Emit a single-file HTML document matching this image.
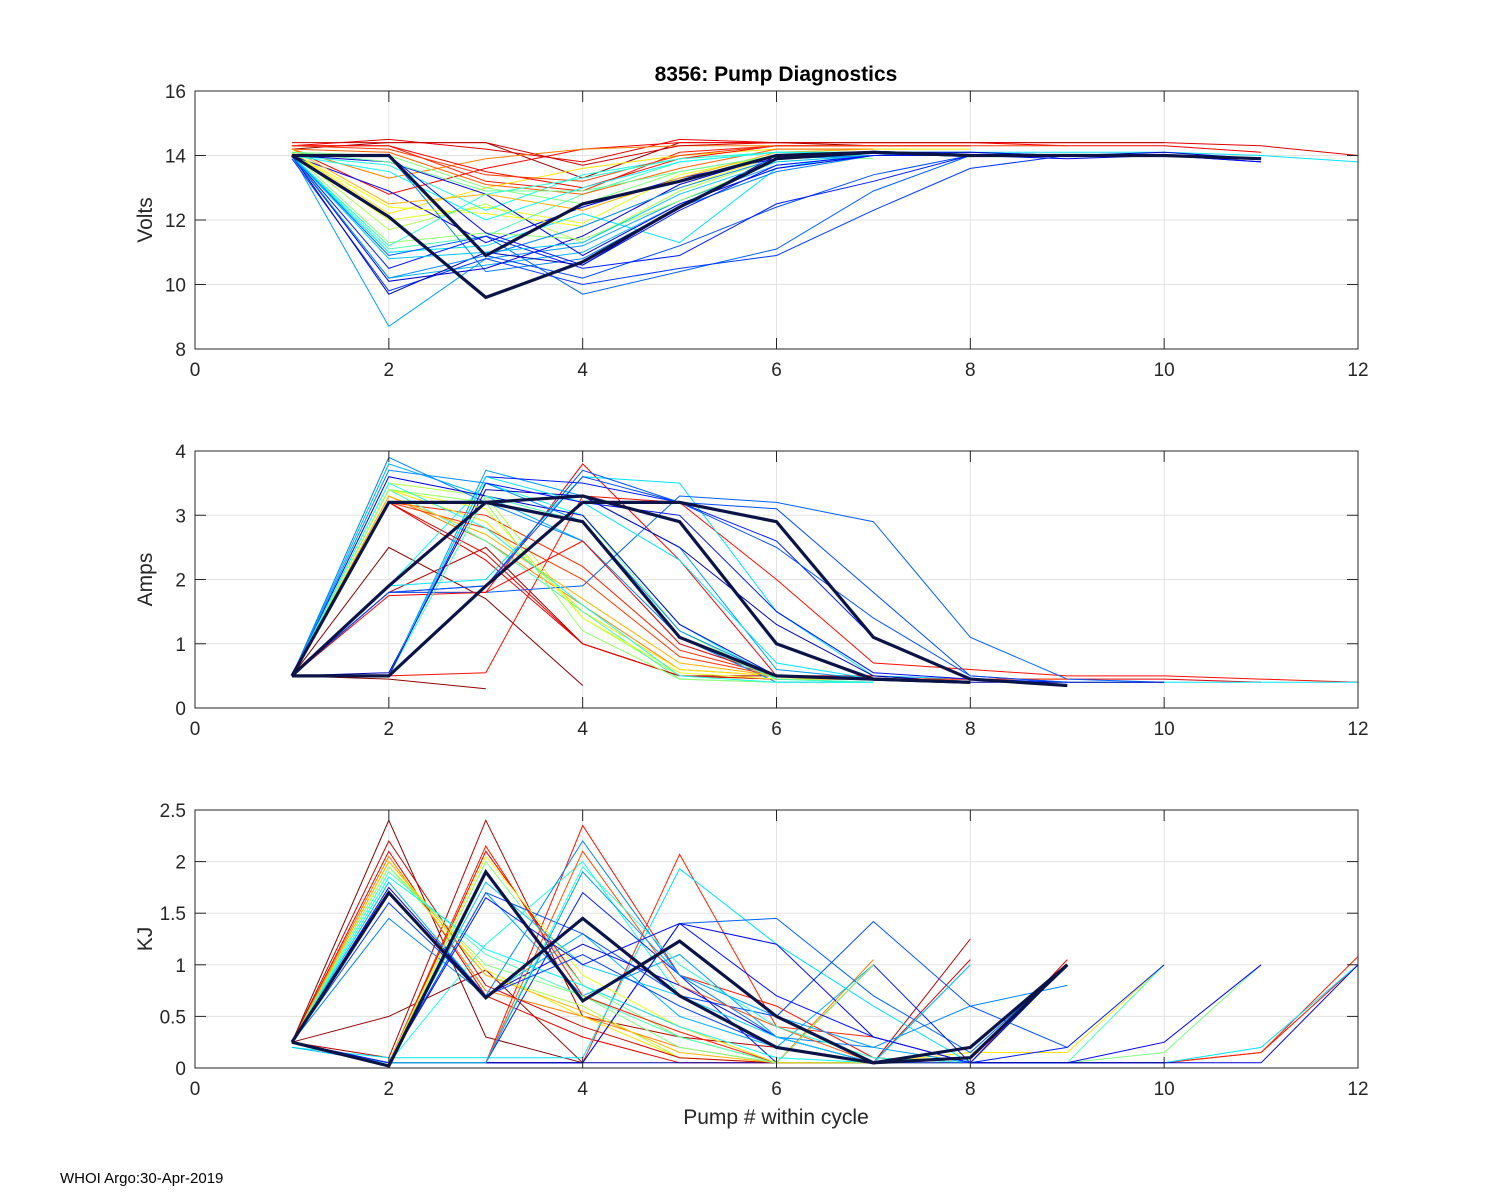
<!DOCTYPE html>
<html><head><meta charset="utf-8"><style>
html,body{margin:0;padding:0;background:#fff;}
svg{display:block;font-family:"Liberation Sans",sans-serif;}
</style></head><body>
<svg id="chart" width="1500" height="1200" viewBox="0 0 1500 1200">
<rect width="1500" height="1200" fill="#fff"/>
<text x="776" y="81" text-anchor="middle" font-size="21" font-weight="bold" fill="#000">8356: Pump Diagnostics</text>
<text x="776" y="1124" text-anchor="middle" font-size="21" fill="#262626">Pump # within cycle</text>
<text x="60" y="1183" font-size="15" fill="#000">WHOI Argo:30-Apr-2019</text>
</svg>
<script>
// Shared x ticks
const xTicks = [0,2,4,6,8,10,12];
// Volts panel
const voltColors = [0.02,0.1,0.12,0.15,0.25,0.35,0.4,0.45,0.5,0.55,0.6,0.65,0.7,0.72,0.75,0.78,0.8,0.82,0.85,0.88,0.9,0.92,0.95,1,1,
  0.08,0.13,0.18,0.22,0.3,0.38,0.48,0.52,0.58,0.62,0.68,0.74,0.86];
const voltThick = [0,0,0,0,0,0,0,0,0,0,0,0,0,0,0,0,0,0,0,0,0,0,0,1,1,0,0,0,0,0,0,0,0,0,0,0,0,0];
const voltSeries = [
[14.2,14.4,14.4,13.3,14.4,14.4,14.3,14.3],
[14.3,14.5,14.2,13.8,14.5,14.4,14.4,14.4,14.4,14.4,14.3,14.0],
[14.2,12.8,13.6,14.2,14.4,14.4,14.4,14.4,14.3,14.3,14.1],
[14.3,14.3,13.2,12.9,14.1,14.3,14.3,14.3],
[14.2,13.3,13.9,14.2,14.3,14.3,14.3],
[14.1,12.2,13.0,13.6,14.0,14.2,14.2,14.2],
[14.1,12.0,12.4,11.9,13.4,14.0,14.1],
[14.1,11.7,12.5,11.3,12.9,13.9,14.1,14.1],
[14.1,14.0,13.0,12.5,13.5,14.0,13.9],
[14.0,11.1,11.5,12.8,13.8,14.1,14.1],
[14.0,13.7,12.3,13.4,13.9,14.1],
[14.0,11.0,11.2,12.2,11.3,13.6,14.1,14.1,14.1,14.1,14.0,13.8],
[14.0,10.2,10.6,11.0,12.5,13.6,14.0,14.0,14.0],
[14.0,8.7,10.8,11.2,12.6,13.7,14.0,14.0],
[14.0,14.0,10.4,10.8,12.4,13.5,14.0,14.1,14.0],
[14.0,10.9,11.5,9.7,10.4,11.1,12.9,14.0,14.0],
[14.0,14.0,10.9,10.2,11.2,12.4,13.4,14.0],
[13.9,9.8,10.8,10.0,10.5,10.9,12.3,13.6,14.0],
[14.0,10.5,11.5,10.5,10.9,12.5,13.2,14.0,14.0,14.0,13.8],
[14.0,12.9,11.3,12.4,13.3,13.9,14.0,14.0,13.9,14.0,13.8],
[14.0,13.8,12.8,10.9,12.5,13.6,14.0,14.0,14.0,14.0],
[14.0,10.1,10.5,11.5,13.1,14.0,14.1,14.1,14.0,14.1,13.9],
[14.0,9.7,11.0,10.6,12.4,14.0,14.1,14.0,14.0,14.0,13.9],
[14.0,12.1,9.6,10.7,12.4,13.9,14.1,14.0,14.0,14.0,13.9],
[14.0,14.0,10.9,12.5,13.2,14.0,14.1,14.0],
[14.4,14.4,14.4,13.7,14.3,14.4,14.4,14.4,14.4,14.4],
[14.3,14.3,13.5,13.0,13.9,14.3,14.3],
[14.3,14.2,13.4,13.2,14.0,14.3,14.3,14.3,14.3],
[14.2,14.1,13.1,12.8,13.6,14.2,14.2],
[14.2,12.5,12.8,12.3,13.3,14.1,14.2],
[14.1,12.4,12.2,11.8,13.0,14.0,14.1],
[14.1,11.3,11.6,11.4,12.6,13.8,14.0],
[14.1,13.8,12.9,12.9,13.5,14.0,14.0],
[14.0,11.2,12.8,13.3,13.9,14.1,14.1],
[14.0,13.5,12.0,13.0,13.8,14.1,14.1],
[14.0,10.8,11.0,11.3,12.8,13.8,14.0,14.0],
[14.0,10.2,10.9,11.8,13.0,13.9,14.0,14.0,14.0],
[14.0,14.0,11.6,10.6,12.3,13.7,14.0,14.0]
];
const voltTicks = [8,10,12,14,16];
// Amps panel
const ampColors = [0.0,0.02,0.05,0.1,0.12,0.14,0.16,0.25,0.35,0.45,0.5,0.55,0.6,0.65,0.7,0.72,0.75,0.78,0.8,0.85,0.9,0.95,1,1,1,
  0.1,0.13,0.18,0.3,0.4,0.48,0.55,0.6,0.65,0.74,0.8,0.86];
const ampThick = [0,0,0,0,0,0,0,0,0,0,0,0,0,0,0,0,0,0,0,0,0,0,1,1,1,0,0,0,0,0,0,0,0,0,0,0,0];
const ampSeries = [
[0.5,2.5,1.7,0.35],
[0.5,0.45,0.3],
[0.5,1.8,2.5,1.0,0.5,0.5,0.5,0.4],
[0.5,3.2,2.3,1.0,0.5,0.45,0.45,0.45,0.45,0.45,0.4],
[0.5,1.8,1.8,3.8,2.3,0.5,0.5,0.45],
[0.5,0.5,0.55,3.3,3.2,2.0,0.7,0.6,0.5,0.5,0.45,0.4],
[0.5,3.2,3.0,2.2,0.9,0.5,0.45],
[0.5,3.3,2.6,1.6,0.6,0.5,0.45],
[0.5,3.4,2.9,1.5,0.6,0.5,0.45],
[0.5,3.5,3.3,1.4,0.5,0.45,0.45],
[0.5,0.5,3.3,3.0,1.2,0.45,0.4],
[0.5,3.4,2.6,1.5,0.45,0.4,0.4],
[0.5,1.9,3.5,3.0,1.3,0.45,0.4],
[0.5,1.9,2.0,3.6,3.5,1.5,0.5,0.45,0.4,0.4,0.4,0.4],
[0.5,3.8,3.3,2.6,1.0,0.5,0.45,0.4],
[0.5,0.5,3.7,3.3,2.5,0.6,0.45],
[0.5,3.9,3.2,2.6,1.1,0.4,0.4],
[0.5,1.8,1.8,1.9,3.3,3.2,2.9,1.1,0.45,0.4],
[0.5,1.8,1.9,3.7,3.2,3.1,1.8,0.5,0.4],
[0.5,0.5,3.6,3.5,3.2,2.6,1.1,0.45,0.4],
[0.5,3.6,3.3,3.0,1.3,0.5,0.45],
[0.5,0.55,3.4,3.3,2.5,1.3,0.5,0.4,0.4,0.4],
[0.5,1.9,3.2,2.9,1.1,0.5,0.45,0.4],
[0.5,3.2,3.2,3.3,2.9,1.0,0.45,0.4],
[0.5,0.5,1.9,3.2,3.2,2.9,1.1,0.45,0.35],
[0.5,3.2,2.4,1.0,0.5,0.45,0.45,0.45],
[0.5,1.75,1.8,2.6,1.0,0.5,0.45],
[0.5,3.2,2.8,2.0,0.8,0.5,0.45,0.45,0.45],
[0.5,3.3,2.7,1.7,0.7,0.5,0.45],
[0.5,3.4,3.1,1.4,0.55,0.45,0.45],
[0.5,3.4,3.2,1.2,0.45,0.4],
[0.5,0.5,3.3,2.9,1.1,0.45,0.4],
[0.5,3.5,2.8,1.6,0.5,0.4,0.4],
[0.5,0.5,3.6,3.2,2.3,0.7,0.45],
[0.5,3.7,3.5,2.9,1.2,0.5,0.45,0.4],
[0.5,1.8,1.9,3.6,3.2,2.5,1.4,0.5,0.4],
[0.5,0.5,3.5,3.2,3.0,1.5,0.55,0.45]
];
const ampTicks = [0,1,2,3,4];
// KJ panel
const kjColors = [0.0,0.02,0.05,0.1,0.12,0.14,0.16,0.25,0.35,0.45,0.5,0.55,0.6,0.65,0.7,0.72,0.75,0.78,0.8,0.85,0.88,0.9,1,1,0.95,
  0.08,0.15,0.2,0.3,0.4,0.5,0.58,0.62,0.68,0.72,0.82,0.86];
const kjThick = [0,0,0,0,0,0,0,0,0,0,0,0,0,0,0,0,0,0,0,0,0,0,1,1,0,0,0,0,0,0,0,0,0,0,0,0,0];
const kjSeries = [
[0.25,2.4,0.3,0.05],
[0.25,0.5,0.95,0.05],
[0.25,0.1,2.4,0.5,0.3,0.2,0.05,1.25],
[0.25,2.1,0.7,0.3,0.05,0.05,0.05,1.05],
[0.25,0.05,2.1,0.8,0.4,0.05,0.05,0.05,1.05],
[0.25,0.05,0.05,2.35,0.9,0.6,0.1,0.05,0.05,0.05,0.15,1.0],
[0.25,0.05,0.05,0.05,2.07,0.4,0.3,0.05,0.05,0.05,0.15,1.08],
[0.25,2.05,0.75,0.5,0.2,0.05,1.05],
[0.25,2.0,0.95,0.5,0.1,0.05,0.05,0.15,0.15,1.0],
[0.25,1.95,0.9,0.6,0.1,0.05,1.0],
[0.25,0.05,2.0,0.8,0.3,0.05,0.05,0.05,0.05,0.15,1.0],
[0.25,1.9,1.1,0.7,0.3,0.05,0.05,0.05,0.05,1.0],
[0.25,0.05,1.2,2.0,0.7,0.2,0.05],
[0.2,0.1,0.1,0.1,1.93,1.2,0.6,0.05,0.05,0.05,0.2,1.0],
[0.25,1.8,0.7,1.3,0.5,0.2,1.0],
[0.25,0.05,1.7,0.7,1.1,0.3,0.05],
[0.25,1.45,0.7,2.2,0.9,0.3,0.2,0.6,0.8],
[0.25,0.05,0.05,0.05,1.4,1.45,0.7,0.15,1.0],
[0.25,0.05,1.7,1.3,0.7,0.5,1.42,0.6,0.2],
[0.25,0.05,0.05,1.7,0.9,0.05,1.0,0.05,0.2,1.0],
[0.25,0.05,0.05,0.05,1.4,1.2,0.3,0.05,0.05,0.25,1.0],
[0.25,1.75,0.7,1.2,0.8,0.3,0.05,0.05,0.05,0.05,0.05,1.0],
[0.25,1.7,0.68,1.45,0.7,0.2,0.05,0.1,1.0],
[0.25,0.02,1.9,0.65,1.23,0.5,0.05,0.2,1.0],
[0.25,0.05,0.05,0.05,0.05,0.05,0.05,0.05,0.05,0.05],
[0.25,2.2,0.8,0.4,0.1,0.05,1.0],
[0.25,0.05,2.15,0.7,0.35,0.05,0.05,1.0],
[0.25,0.05,0.05,2.1,0.8,0.4,0.05,0.05,1.0],
[0.25,2.0,0.9,0.55,0.15,0.05,1.0],
[0.25,0.05,2.05,0.9,0.4,0.05,0.05,0.05,1.0],
[0.25,1.95,1.0,0.7,0.2,0.05,1.0],
[0.25,0.05,0.05,1.95,1.0,0.4,0.1,0.05,1.0],
[0.25,1.85,1.15,0.8,0.4,0.1,0.05,1.0],
[0.2,0.05,1.8,1.0,0.7,0.3,0.05,1.0],
[0.25,0.05,0.05,1.9,0.9,0.5,0.2,0.05,1.0],
[0.25,1.6,0.7,1.1,0.6,0.2,0.05,0.05,1.0],
[0.25,0.05,1.65,1.0,1.4,0.7,0.3,0.05,1.0]
];
const kjTicks = [0,0.5,1,1.5,2,2.5];

const NS = 'http://www.w3.org/2000/svg';
const svg = document.getElementById('chart');
const X0 = 195, X1 = 1358;
function mk(tag, attrs, parent){ const e = document.createElementNS(NS, tag); for (const k in attrs) e.setAttribute(k, attrs[k]); (parent||svg).appendChild(e); return e; }
function clamp(v){ return Math.max(0, Math.min(1, v)); }
function jet(c){ const v = 1 - c; const r = clamp(1.5 - Math.abs(4*v - 3)), g = clamp(1.5 - Math.abs(4*v - 2)), b = clamp(1.5 - Math.abs(4*v - 1)); return `rgb(${Math.round(r*255)},${Math.round(g*255)},${Math.round(b*255)})`; }
const defs = mk('defs', {});

function panel(name, top, bottom, yTicks, series, colors, thick, yLabel){
  const ymin = yTicks[0], ymax = yTicks[yTicks.length-1];
  const xs = v => X0 + (v - xTicks[0]) / (xTicks[xTicks.length-1] - xTicks[0]) * (X1 - X0);
  const ys = v => bottom - (v - ymin) / (ymax - ymin) * (bottom - top);
  const cp = mk('clipPath', {id: 'clip-' + name}, defs);
  mk('rect', {x: X0, y: top, width: X1 - X0, height: bottom - top}, cp);
  const g = mk('g', {});
  
  
  xTicks.forEach(t => { if (t > xTicks[0] && t < xTicks[xTicks.length-1]) { const l = mk('line', {x1: xs(t), x2: xs(t), y1: top, y2: bottom, stroke: '#e3e3e3', 'stroke-width': 1}, g);   } });
  yTicks.forEach(t => { if (t > ymin && t < ymax) { const l = mk('line', {x1: X0, x2: X1, y1: ys(t), y2: ys(t), stroke: '#e3e3e3', 'stroke-width': 1}, g);   } });
  const lines = mk('g', {'clip-path': `url(#clip-${name})`}, g);
  
  
  const order = series.map((s, i) => i).sort((a, b) => thick[a] - thick[b]);
  order.forEach(i => {
    const s = series[i];
    const pts = s.map((v, k) => xs(k + 1).toFixed(1) + ',' + ys(v).toFixed(1)).join(' ');
    const pl = mk('polyline', {points: pts, fill: 'none', stroke: thick[i] ? '#0b1446' : jet(colors[i]), 'stroke-width': thick[i] ? 3.2 : 1}, lines);
    
    
  });
  const box = mk('rect', {x: X0, y: top, width: X1 - X0, height: bottom - top, fill: 'none', stroke: '#262626', 'stroke-width': 1}, g);
  
  
  xTicks.forEach(t => {
    mk('line', {x1: xs(t), x2: xs(t), y1: bottom, y2: bottom - 11, stroke: '#262626'}, g);
    mk('line', {x1: xs(t), x2: xs(t), y1: top, y2: top + 11, stroke: '#262626'}, g);
    const tx = mk('text', {x: xs(t), y: bottom + 27, 'text-anchor': 'middle', 'font-size': 19, fill: '#262626'}, g);
    tx.textContent = t;
    
    
  });
  yTicks.forEach(t => {
    mk('line', {x1: X0, x2: X0 + 11, y1: ys(t), y2: ys(t), stroke: '#262626'}, g);
    mk('line', {x1: X1, x2: X1 - 11, y1: ys(t), y2: ys(t), stroke: '#262626'}, g);
    const tx = mk('text', {x: X0 - 9, y: ys(t) + 7, 'text-anchor': 'end', 'font-size': 19, fill: '#262626'}, g);
    tx.textContent = t;
    
    
  });
  const yl = mk('text', {x: 0, y: 0, 'text-anchor': 'middle', 'font-size': 21, fill: '#262626', transform: `translate(152,${(top+bottom)/2}) rotate(-90)`}, g);
  yl.textContent = yLabel;
  
  
}
panel('volts', 91, 349, voltTicks, voltSeries, voltColors, voltThick, 'Volts');
panel('amps', 451, 708, ampTicks, ampSeries, ampColors, ampThick, 'Amps');
panel('kj', 810, 1068, kjTicks, kjSeries, kjColors, kjThick, 'KJ');
</script>
</body></html>
